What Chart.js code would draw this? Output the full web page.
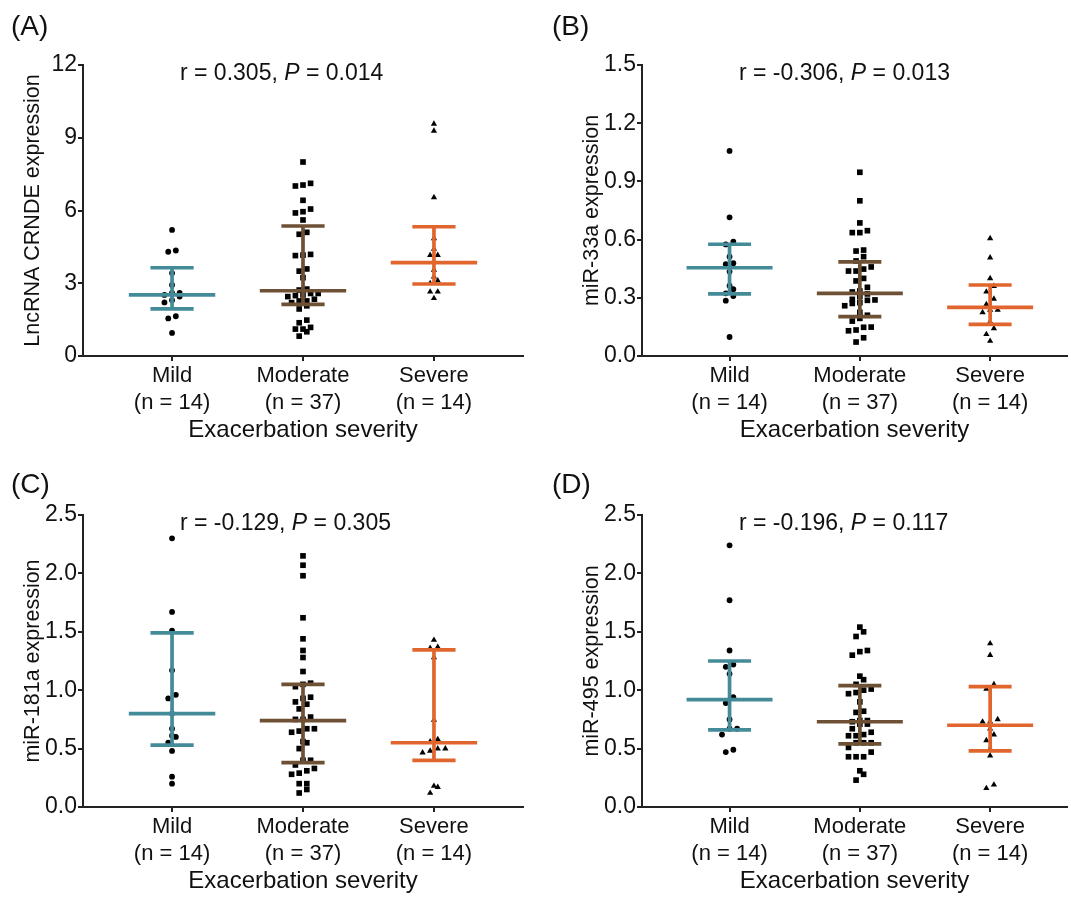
<!DOCTYPE html>
<html>
<head>
<meta charset="utf-8">
<script src="https://cdn.jsdelivr.net/npm/chart.js@4.4.1/dist/chart.umd.min.js"></script>
<style>
body { margin:0; background:#fff; width:1071px; height:898px; position:relative; overflow:hidden; font-family:'Liberation Sans', Arial, sans-serif; }
.panel { position:absolute; }
.tag { position:absolute; font-size:28px; line-height:28px; color:#111; }
</style>
</head>
<body>
<div class="panel" style="left:0;top:0;width:540px;height:450px"><canvas id="chartA"></canvas></div>
<div class="panel" style="left:540px;top:0;width:531px;height:450px"><canvas id="chartB"></canvas></div>
<div class="panel" style="left:0;top:450px;width:540px;height:448px"><canvas id="chartC"></canvas></div>
<div class="panel" style="left:540px;top:450px;width:531px;height:448px"><canvas id="chartD"></canvas></div>
<div class="tag" style="left:11px;top:12px">(A)</div>
<div class="tag" style="left:552px;top:12px">(B)</div>
<div class="tag" style="left:11px;top:470px">(C)</div>
<div class="tag" style="left:552px;top:470px">(D)</div>
<script>
// groups on the x axis
const groups = ['Mild', 'Moderate', 'Severe'];
const nLabels = ['(n = 14)', '(n = 37)', '(n = 14)'];
const xTitle = 'Exacerbation severity';

// (A) LncRNA CRNDE
const aMild = [5.2, 4.35, 4.3, 3.42, 2.93, 2.6, 2.6, 2.52, 2.45, 2.3, 2.21, 1.64, 1.55, 0.95];
const aMod = [8.0, 7.12, 7.05, 7.01, 6.42, 6.06, 5.95, 5.9, 5.61, 5.1, 5.02, 4.19, 4.16, 4.14, 3.59, 3.5, 3.23,
  2.76, 2.72, 2.58, 2.58, 2.52, 2.49, 2.45, 2.34, 2.27, 2.27, 2.2, 2.07, 1.94, 1.48, 1.37, 1.18, 1.11, 1.11, 1.0, 0.82];
const aSev = [9.57, 9.28, 6.54, 4.85, 4.41, 4.16, 4.16, 3.55, 3.27, 3.11, 3.0, 2.65, 2.65, 2.38];
const aMed = [2.52, 2.69, 3.85];
const aQ1 = [1.94, 2.13, 2.97];
const aQ3 = [3.64, 5.36, 5.33];
const aTicks = ['0', '3', '6', '9', '12'];

// (B) miR-33a
const bMild = [1.057, 0.715, 0.589, 0.575, 0.512, 0.478, 0.473, 0.435, 0.362, 0.344, 0.323, 0.309, 0.285, 0.098];
const bMod = [0.947, 0.8, 0.686, 0.646, 0.636, 0.636, 0.546, 0.541, 0.512, 0.49, 0.459, 0.448, 0.438, 0.438, 0.4,
  0.387, 0.354, 0.335, 0.33, 0.32, 0.306, 0.292, 0.289, 0.287, 0.275, 0.271, 0.259, 0.225, 0.21, 0.194, 0.18,
  0.149, 0.148, 0.134, 0.13, 0.094, 0.072];
const bSev = [0.606, 0.507, 0.4, 0.36, 0.331, 0.294, 0.266, 0.237, 0.237, 0.225, 0.177, 0.142, 0.112, 0.077];
const bMed = [0.455, 0.323, 0.251];
const bQ1 = [0.32, 0.203, 0.163];
const bQ3 = [0.576, 0.485, 0.366];
const bTicks = ['0.0', '0.3', '0.6', '0.9', '1.2', '1.5'];

// (C) miR-181a
const cMild = [2.30, 1.67, 1.51, 1.17, 0.96, 0.93, 0.8, 0.67, 0.61, 0.6, 0.55, 0.48, 0.26, 0.2];
const cMod = [2.15, 2.07, 1.98, 1.62, 1.44, 1.34, 1.28, 1.16, 1.06, 1.05, 1.03, 0.94, 0.93, 0.9, 0.88, 0.84, 0.77,
  0.75, 0.75, 0.67, 0.67, 0.65, 0.64, 0.56, 0.55, 0.5, 0.4, 0.4, 0.36, 0.33, 0.31, 0.29, 0.28, 0.2, 0.2, 0.15, 0.12];
const cSev = [1.43, 1.37, 1.36, 1.28, 0.745, 0.58, 0.56, 0.5, 0.5, 0.48, 0.465, 0.18, 0.17, 0.12];
const cMed = [0.80, 0.74, 0.55];
const cQ1 = [0.53, 0.38, 0.40];
const cQ3 = [1.49, 1.05, 1.345];
const cTicks = ['0.0', '0.5', '1.0', '1.5', '2.0', '2.5'];

// (D) miR-495
const dMild = [2.24, 1.77, 1.34, 1.22, 1.2, 1.14, 0.94, 0.89, 0.75, 0.67, 0.67, 0.62, 0.49, 0.47];
const dMod = [1.54, 1.5, 1.46, 1.34, 1.33, 1.3, 1.12, 1.09, 1.05, 1.01, 1.0, 0.98, 0.97, 0.9, 0.82, 0.81, 0.74,
  0.74, 0.73, 0.71, 0.71, 0.67, 0.64, 0.62, 0.61, 0.61, 0.55, 0.55, 0.55, 0.51, 0.47, 0.43, 0.43, 0.43, 0.31, 0.28, 0.23];
const dSev = [1.40, 1.30, 1.05, 1.01, 0.75, 0.73, 0.73, 0.67, 0.62, 0.57, 0.5, 0.44, 0.19, 0.16];
const dMed = [0.92, 0.73, 0.70];
const dQ1 = [0.66, 0.54, 0.48];
const dQ3 = [1.25, 1.04, 1.03];
const dTicks = ['0.0', '0.5', '1.0', '1.5', '2.0', '2.5'];

const rVals = ['0.305', '-0.306', '-0.129', '-0.196'];
const pVals = ['0.014', '0.013', '0.305', '0.117'];

const colors = ['#448b9a', '#6e5034', '#e0662e'];
const shapes = ['circle', 'rect', 'triangle'];
const radii = [2.9, 4, 3.6];
const FONT = "'Liberation Sans', Arial, sans-serif";

Chart.defaults.font.family = FONT;
Chart.defaults.color = '#111';

// simple row based swarm, like prism does it
function swarm(vals, center, pxPerUnit) {
  const step = 7.6 / 131;
  const sorted = vals.slice().sort((a, b) => a - b);
  const rows = [];
  sorted.forEach(v => {
    const row = rows[rows.length - 1];
    if (row && (v - row[0]) * pxPerUnit < 6) row.push(v);
    else rows.push([v]);
  });
  const pts = [];
  rows.forEach(row => row.forEach((v, i) => pts.push({ x: center + (i - (row.length - 1) / 2) * step, y: v })));
  return pts;
}

const statText = {
  id: 'statText',
  afterDraw(chart, args, opts) {
    const { ctx, chartArea } = chart;
    let x = chartArea.left + 97;
    const y = chartArea.top + 15;
    ctx.save();
    ctx.fillStyle = '#111';
    ctx.textBaseline = 'alphabetic';
    opts.parts.forEach(p => {
      ctx.font = (p[1] ? 'italic ' : '') + '23px ' + FONT;
      ctx.fillText(p[0], x, y);
      x += ctx.measureText(p[0]).width;
    });
    ctx.restore();
  }
};

function line(pts, color) {
  return { data: pts, showLine: true, borderColor: color, borderWidth: 3.7, borderCapStyle: 'butt', pointRadius: 0, order: 0 };
}

function makePanel(id, sets, med, q1, q3, ticks, yTitle, k, xMin, xMax, pad) {
  const yMax = parseFloat(ticks[ticks.length - 1]);
  const pxPerUnit = 291 / yMax;
  const datasets = [];
  sets.forEach((vals, i) => {
    const c = i + 1;
    datasets.push(line([{ x: c - 0.33, y: med[i] }, { x: c + 0.33, y: med[i] }], colors[i]));
    datasets.push(line([{ x: c - 0.165, y: q1[i] }, { x: c + 0.165, y: q1[i] }], colors[i]));
    datasets.push(line([{ x: c - 0.165, y: q3[i] }, { x: c + 0.165, y: q3[i] }], colors[i]));
    datasets.push(line([{ x: c, y: q1[i] }, { x: c, y: q3[i] }], colors[i]));
    datasets.push({
      data: swarm(vals, c, pxPerUnit),
      pointStyle: shapes[i],
      pointRadius: radii[i],
      backgroundColor: '#000',
      borderWidth: 0,
      order: 1
    });
  });

  new Chart(document.getElementById(id), {
    type: 'scatter',
    data: { datasets: datasets },
    options: {
      responsive: true,
      maintainAspectRatio: false,
      animation: false,
      layout: { padding: pad },
      plugins: {
        legend: { display: false },
        tooltip: { enabled: false },
        statText: { parts: [['r = ' + rVals[k] + ', ', false], ['P', true], [' = ' + pVals[k], false]] }
      },
      scales: {
        x: {
          type: 'linear',
          min: xMin,
          max: xMax,
          afterBuildTicks: s => { s.ticks = [1, 2, 3].map(v => ({ value: v })); },
          afterFit: s => { s.height = 89; },
          ticks: {
            autoSkip: false,
            maxRotation: 0,
            font: { size: 22 },
            padding: 2,
            callback: v => [groups[v - 1], nLabels[v - 1]]
          },
          grid: { drawOnChartArea: false, tickLength: 5, color: '#222', lineWidth: 2 },
          border: { color: '#222', width: 2 },
          title: { display: true, text: xTitle, font: { size: 24 }, padding: 0 }
        },
        y: {
          min: 0,
          max: yMax,
          afterBuildTicks: s => { s.ticks = ticks.map(t => ({ value: parseFloat(t) })); },
          afterFit: s => { s.width = 83; },
          ticks: {
            font: { size: 23 },
            padding: 1,
            callback: (v, i) => ticks[i]
          },
          grid: { drawOnChartArea: false, tickLength: 5, color: '#222', lineWidth: 2 },
          border: { color: '#222', width: 2 },
          title: { display: true, text: yTitle, font: { size: 21.5 }, padding: { top: 20 } }
        }
      }
    },
    plugins: [statText]
  });
}

makePanel('chartA', [aMild, aMod, aSev], aMed, aQ1, aQ3, aTicks, 'LncRNA CRNDE expression', 0, 0.32, 3.68,
  { left: 0, top: 65, right: 17, bottom: 5 });
makePanel('chartB', [bMild, bMod, bSev], bMed, bQ1, bQ3, bTicks, 'miR-33a expression', 1, 0.328, 3.59,
  { left: 19, top: 65, right: 2, bottom: 5 });
makePanel('chartC', [cMild, cMod, cSev], cMed, cQ1, cQ3, cTicks, 'miR-181a expression', 2, 0.32, 3.68,
  { left: 0, top: 65, right: 17, bottom: 2 });
makePanel('chartD', [dMild, dMod, dSev], dMed, dQ1, dQ3, dTicks, 'miR-495 expression', 3, 0.328, 3.59,
  { left: 19, top: 65, right: 2, bottom: 2 });
</script>
</body>
</html>
